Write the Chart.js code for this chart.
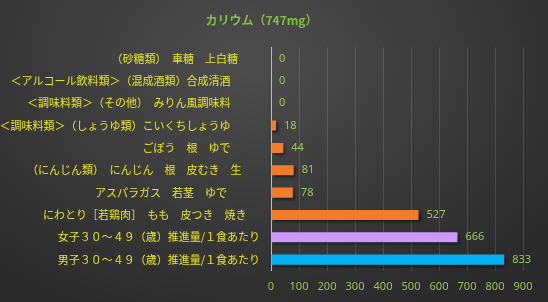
<!DOCTYPE html>
<html>
<head>
<meta charset="utf-8">
<script src="https://cdn.jsdelivr.net/npm/chart.js@4"></script>
<style>
  html, body { margin: 0; padding: 0; }
  body {
    width: 548px; height: 302px; overflow: hidden;
    background: radial-gradient(ellipse 70% 90% at 45% 20%, #4d4d4d 0%, #3c3c3c 50%, #2a2a2a 100%);
  }
  #wrap { width: 548px; height: 302px; }
</style>
</head>
<body>
<div id="wrap"><canvas id="kaliumChart"></canvas></div>
<script>
const chartTitle = 'カリウム（747mg）';
const foodLabels = [
    '（砂糖類）　車糖　上白糖　　',
    '＜アルコール飲料類＞（混成酒類）合成清酒　　   ',
    '＜調味料類＞（その他）　みりん風調味料　　   ',
    '＜調味料類＞（しょうゆ類）こいくちしょうゆ　　   ',
    'ごぼう　根　ゆで　　   ',
    '（にんじん類）　にんじん　根　皮むき　生　   ',
    'アスパラガス　若茎　ゆで　　　',
    'にわとり［若鶏肉］　もも　皮つき　焼き　 ',
    '女子３０～４９（歳）推進量/１食あたり',
    '男子３０～４９（歳）推進量/１食あたり'
];
const kaliumValues = [0, 0, 0, 18, 44, 81, 78, 527, 666, 833];
const barColors = ['#F07C2C', '#F07C2C', '#F07C2C', '#F07C2C', '#F07C2C',
    '#F07C2C', '#F07C2C', '#F07C2C', '#CC96FA', '#00B0F0'];
const axisMax = 900;
const axisStep = 100;

const jpFont = "'Noto Sans CJK JP', 'Noto Sans', sans-serif";

const shadowPlugin = {
    id: 'barShadow',
    beforeDatasetsDraw(chart) {
        const ctx = chart.ctx;
        ctx.save();
        ctx.shadowColor = 'rgba(0,0,0,0.65)';
        ctx.shadowBlur = 3;
        ctx.shadowOffsetX = 2;
        ctx.shadowOffsetY = 2;
    },
    afterDatasetsDraw(chart) {
        chart.ctx.restore();
    }
};

const valueLabelPlugin = {
    id: 'valueLabels',
    afterDatasetsDraw(chart) {
        const ctx = chart.ctx;
        const meta = chart.getDatasetMeta(0);
        ctx.save();
        ctx.font = "11px 'Noto Sans', sans-serif";
        ctx.fillStyle = '#9CC85A';
        ctx.textAlign = 'left';
        ctx.textBaseline = 'middle';
        meta.data.forEach((bar, i) => {
            ctx.fillText(String(kaliumValues[i]), bar.x + 8, bar.y);
        });
        ctx.restore();
    }
};

new Chart(document.getElementById('kaliumChart'), {
    type: 'bar',
    plugins: [shadowPlugin, valueLabelPlugin],
    data: {
        labels: foodLabels,
        datasets: [{
            data: kaliumValues,
            backgroundColor: barColors,
            borderWidth: 0,
            categoryPercentage: 1,
            barPercentage: 0.45
        }]
    },
    options: {
        indexAxis: 'y',
        responsive: true,
        maintainAspectRatio: false,
        animation: false,
        layout: { padding: { top: 0, right: 25, bottom: 0, left: 0 } },
        plugins: {
            legend: { display: false },
            tooltip: { enabled: false },
            title: {
                display: true,
                text: chartTitle,
                color: '#86BC48',
                font: { family: jpFont, size: 12, weight: 'bold' },
                padding: { top: 13, bottom: 20 }
            }
        },
        scales: {
            x: {
                min: 0,
                max: axisMax,
                ticks: {
                    stepSize: axisStep,
                    color: '#96C25A',
                    font: { family: "'Noto Sans', sans-serif", size: 11 },
                    padding: 9
                },
                grid: { color: 'rgba(255,255,255,0.13)', drawTicks: false },
                border: { display: false }
            },
            y: {
                afterFit(scale) { scale.width = 271; },
                ticks: {
                    color: '#E6E61E',
                    font: { family: jpFont, size: 11 },
                    padding: 3,
                    autoSkip: false
                },
                grid: { display: false },
                border: { display: true, color: '#BDBDBD', width: 1 }
            }
        }
    }
});
</script>
</body>
</html>
